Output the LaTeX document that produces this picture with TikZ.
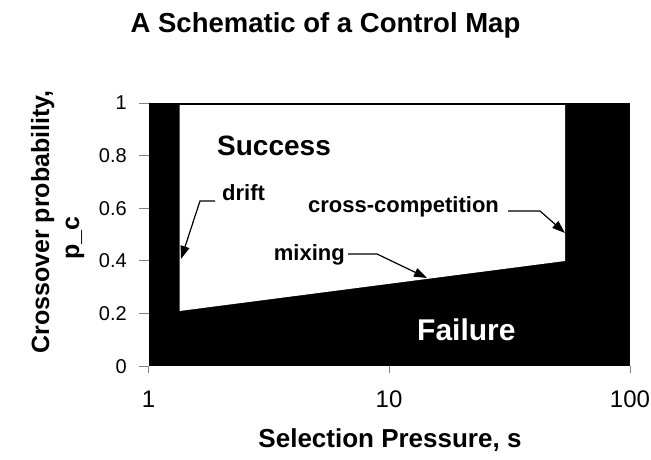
\documentclass[tikz,border=0pt]{standalone}
\usepackage{fontspec}
\setmainfont{Liberation Sans}
\usetikzlibrary{arrows.meta}
\begin{document}
\begin{tikzpicture}[x=1pt,y=-1pt,
  lbl/.style={font=\fontsize{22}{26}\selectfont\bfseries, inner sep=0pt},
  axlbl/.style={font=\fontsize{26}{30}\selectfont\bfseries, inner sep=0pt},
  ylbl/.style={font=\fontsize{20}{24}\selectfont, inner sep=0pt, anchor=base east},
  xlbl/.style={font=\fontsize{24}{28}\selectfont, inner sep=0pt, anchor=base},
  tick/.style={draw=gray, line width=0.8pt},
  leader/.style={line width=1.2pt, -{Triangle[length=13pt,width=9pt]}},
  ]
\useasboundingbox (0,0) rectangle (651,460);
% regions
\fill[black] (148.5,103) rectangle (630,366);
\fill[white] (179.5,105) -- (179.5,311) -- (565,261) -- (565,105) -- cycle;
% ticks
\foreach \v/\t in {0/0,0.2/0.2,0.4/0.4,0.6/0.6,0.8/0.8,1/1}{
  \draw[tick] (139,{366-263*\v}) -- (148.5,{366-263*\v});
  \node[ylbl] (yt\t) at (127,{373-263*\v}) {\t};
}
\foreach \x/\t in {148.5/1,389/10,630/100}{
  \draw[tick] (\x,366) -- (\x,373);
  \node[xlbl] (xt\t) at (\x,407) {\t};
}
% titles
\node[axlbl, font=\fontsize{27.5}{32}\selectfont\bfseries, anchor=base] (title) at (325.5,33) {A Schematic of a Control Map};
\node[axlbl, anchor=base] (xlabel) at (390,447) {Selection Pressure, s};
\node[axlbl, font=\fontsize{25}{30}\selectfont\bfseries, rotate=90, anchor=base] (ylabel1) at (49,222) {Crossover probability,};
\node[axlbl, font=\fontsize{25}{30}\selectfont\bfseries, rotate=90, anchor=base] (ylabel2) at (79,238) {p\_c};
% region labels
\node[lbl, font=\fontsize{28}{32}\selectfont\bfseries, anchor=base west] (succ) at (217,155) {Success};
\node[lbl, font=\fontsize{30}{34}\selectfont\bfseries, text=white, anchor=base west] (fail) at (417,340) {Failure};
% annotations
\node[lbl, anchor=base west] (drift) at (222,200) {drift};
\coordinate (drifts) at (215,201);
\coordinate (driftb) at (200,201);
\coordinate (driftt) at (181,259);
\draw[leader] (drifts) -- (driftb) -- (driftt);
\node[lbl, anchor=base west] (cross) at (308,212) {cross-competition};
\coordinate (crosss) at (508,211);
\coordinate (crossb) at (540,211);
\coordinate (crosst) at (565,233);
\draw[leader] (crosss) -- (crossb) -- (crosst);
\node[lbl, anchor=base east] (mix) at (345,260) {mixing};
\coordinate (mixs) at (348,254);
\coordinate (mixb) at (377,254);
\coordinate (mixt) at (427,278);
\draw[leader] (mixs) -- (mixb) -- (mixt);
\end{tikzpicture}
\end{document}
